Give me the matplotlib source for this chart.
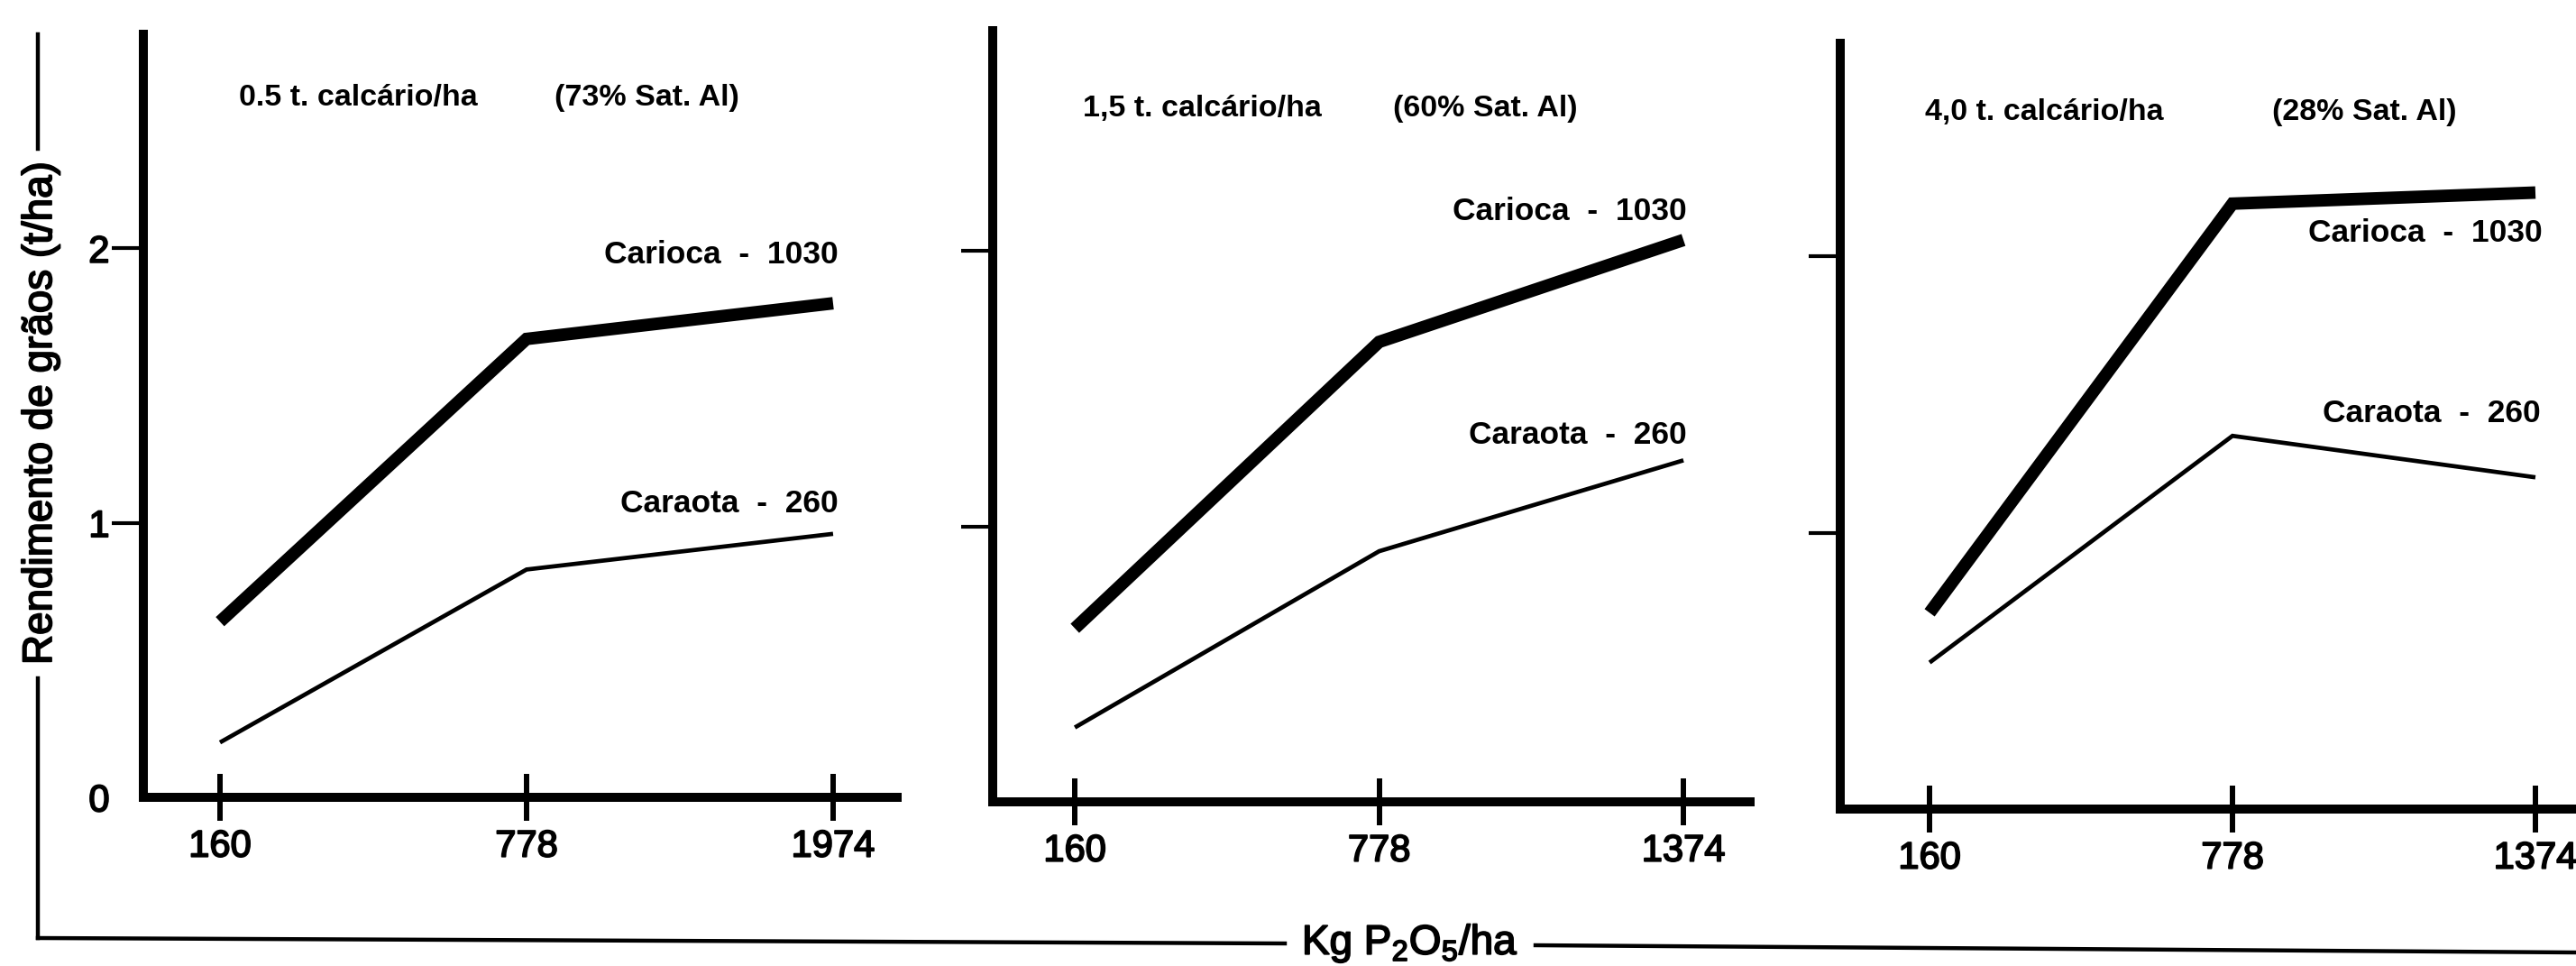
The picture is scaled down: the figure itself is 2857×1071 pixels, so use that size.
import matplotlib
matplotlib.use("Agg")
import matplotlib.pyplot as plt
from matplotlib.lines import Line2D
import matplotlib.patheffects as pe

plt.rcParams['font.family'] = ['Liberation Sans', 'DejaVu Sans']
plt.rcParams['mathtext.fontset'] = 'custom'
plt.rcParams['mathtext.rm'] = 'Liberation Sans'
plt.rcParams['mathtext.it'] = 'Liberation Sans'
plt.rcParams['mathtext.default'] = 'regular'

# ---------------- data ----------------
x_labels_1 = ['160', '778', '1974']
x_labels_2 = ['160', '778', '1374']
x_labels_3 = ['160', '778', '1374']

carioca_1 = [0.64, 1.67, 1.80]
caraota_1 = [0.20, 0.83, 0.96]
carioca_2 = [0.63, 1.67, 2.04]
caraota_2 = [0.27, 0.91, 1.24]
carioca_3 = [0.71, 2.19, 2.23]
caraota_3 = [0.53, 1.35, 1.20]

titles_lime = ['0.5 t. calcário/ha', '1,5 t. calcário/ha', '4,0 t. calcário/ha']
titles_sat = ['(73% Sat. Al)', '(60% Sat. Al)', '(28% Sat. Al)']
label_carioca = 'Carioca  -  1030'
label_caraota = 'Caraota  -  260'
y_ticks = [0, 1, 2]
y_label = 'Rendimento de grãos (t/ha)'
x_label = r'Kg P$_2$O$_5$/ha'

# ---------------- layout ----------------
W, H = 2857, 1071
fig = plt.figure(figsize=(W / 100, H / 100), dpi=100)
fig.patch.set_facecolor('white')

heavy = [pe.withStroke(linewidth=1.3, foreground='black')]


def fx(x):
    return x / W


def fy(y):
    return 1 - y / H


panels = [
    dict(L=159, R=995, T=38, B=884, xlim=(-0.250, 2.209), ytop=2.78,
         xl=x_labels_1, car=carioca_1, cara=caraota_1, show_ylab=True,
         t1=(265, 109), t2=(615, 109), lc=(930, 282), la=(930, 559)),
    dict(L=1101, R=1941, T=34, B=889, xlim=(-0.270, 2.219), ytop=2.80,
         xl=x_labels_2, car=carioca_2, cara=caraota_2, show_ylab=False,
         t1=(1201, 120), t2=(1545, 120), lc=(1871, 234), la=(1871, 482)),
    dict(L=2041, R=2857, T=48, B=897, xlim=(-0.295, 2.134), ytop=2.77,
         xl=x_labels_3, car=carioca_3, cara=caraota_3, show_ylab=False,
         t1=(2135, 125), t2=(2520, 125), lc=(2820, 258), la=(2818, 458)),
]

for i, p in enumerate(panels):
    ax = fig.add_axes([fx(p['L']), fy(p['B']), (p['R'] - p['L']) / W,
                       (p['B'] - p['T']) / H])
    ax.set_facecolor('none')
    xs = list(range(len(p['xl'])))
    ax.plot(xs, p['car'], color='black', lw=10, solid_capstyle='butt',
            solid_joinstyle='miter', clip_on=False)
    ax.plot(xs, p['cara'], color='black', lw=3.4, solid_capstyle='butt',
            solid_joinstyle='miter', clip_on=False)
    ax.set_xlim(*p['xlim'])
    ax.set_ylim(0, p['ytop'])
    for s in ['top', 'right']:
        ax.spines[s].set_visible(False)
    for s in ['left', 'bottom']:
        ax.spines[s].set_linewidth(7.2)
        ax.spines[s].set_capstyle('projecting')
    ax.set_xticks(xs)
    ax.set_xticklabels(p['xl'], fontsize=30)
    ax.tick_params(axis='x', direction='inout', length=38, width=4.3, pad=6)
    ax.set_yticks(y_ticks)
    if p['show_ylab']:
        ax.set_yticklabels([str(v) for v in y_ticks], fontsize=30)
    else:
        ax.set_yticklabels([])
    ax.tick_params(axis='y', direction='out', length=25, width=3, pad=2)
    ax.yaxis.get_major_ticks()[0].tick1line.set_visible(False)
    for lab in ax.get_xticklabels() + ax.get_yticklabels():
        lab.set_path_effects(heavy)

    fig.text(fx(p['t1'][0]), fy(p['t1'][1]), titles_lime[i], fontsize=24.5,
             fontweight='bold', ha='left', va='center')
    fig.text(fx(p['t2'][0]), fy(p['t2'][1]), titles_sat[i], fontsize=24.5,
             fontweight='bold', ha='left', va='center')
    fig.text(fx(p['lc'][0]), fy(p['lc'][1]), label_carioca, fontsize=25.5,
             fontweight='bold', ha='right', va='center')
    fig.text(fx(p['la'][0]), fy(p['la'][1]), label_caraota, fontsize=25.5,
             fontweight='bold', ha='right', va='center')

# outer bracket with axis titles
lw_br = 3.2
fig.add_artist(Line2D([fx(42), fx(42)], [fy(38), fy(165)], color='black', lw=lw_br))
fig.add_artist(Line2D([fx(42), fx(42)], [fy(752), fy(1040)], color='black', lw=lw_br,
                      solid_capstyle='projecting'))
fig.add_artist(Line2D([fx(42), fx(1425)], [fy(1040), fy(1046)], color='black', lw=lw_br,
                      solid_capstyle='projecting'))
fig.add_artist(Line2D([fx(1703), fx(2857)], [fy(1048), fy(1056)], color='black', lw=lw_br))

fig.text(fx(45), fy(458), y_label, rotation=90, fontsize=33, ha='center', va='center',
         path_effects=heavy)
fig.text(fx(1564), fy(1046), x_label, fontsize=33, ha='center', va='center',
         path_effects=heavy)

fig.savefig('out.png', dpi=100, facecolor='white')
